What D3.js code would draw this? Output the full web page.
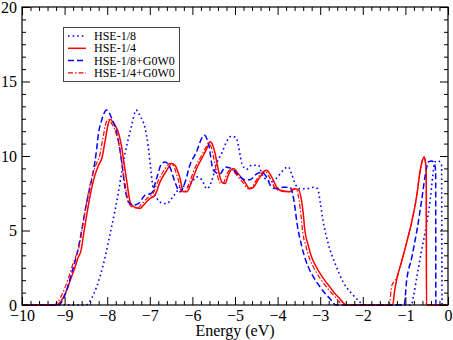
<!DOCTYPE html>
<html>
<head>
<meta charset="utf-8">
<script src="https://cdn.jsdelivr.net/npm/d3@7"></script>
<style>
  body { margin: 0; background: #fff; }
  svg { display: block; }
  svg text { font-family: "Liberation Serif", "Times New Roman", serif; }
</style>
</head>
<body>
<svg></svg>
<script>
// DOS curves, [energy (eV), DOS]
let hse8 = [[-10,0],[-8.5,0],[-8.42,0.2],[-8.33,0.65],[-8.25,1.2],[-8.17,1.9],[-8.05,3.2],[-7.93,4.8],[-7.82,6.3],[-7.74,7.5],[-7.66,8.9],[-7.58,10.2],[-7.5,11.2],[-7.43,12.0],[-7.32,13.08],[-7.23,12.7],[-7.11,11.85],[-7.04,10.7],[-6.98,9.16],[-6.92,7.8],[-6.84,7.2],[-6.72,6.85],[-6.6,6.8],[-6.49,7.14],[-6.37,7.6],[-6.25,8.0],[-6.13,7.9],[-6.0,8.3],[-5.9,8.6],[-5.78,8.4],[-5.66,7.8],[-5.55,8.3],[-5.43,9.5],[-5.31,10.2],[-5.2,10.95],[-5.08,11.33],[-4.98,11.24],[-4.92,10.7],[-4.88,10.05],[-4.84,9.5],[-4.73,9.1],[-4.61,9.38],[-4.45,9.38],[-4.37,8.8],[-4.26,8.4],[-4.14,8.26],[-4.03,8.5],[-3.94,8.8],[-3.83,9.16],[-3.75,9.27],[-3.67,8.8],[-3.59,8.15],[-3.47,7.8],[-3.32,7.8],[-3.16,7.9],[-3.06,7.8],[-3.0,6.9],[-2.93,5.6],[-2.81,4.1],[-2.65,2.78],[-2.46,1.54],[-2.26,0.76],[-2.07,0.2],[-2.0,0],[-0.86,0],[-0.81,0.6],[-0.73,1.9],[-0.62,3.67],[-0.5,5.46],[-0.42,7.0],[-0.36,8.6],[-0.31,9.6],[-0.23,9.67],[-0.15,9.38],[-0.14,0],[0,0]];

let hse4 = [[-10,0],[-9.2,0],[-9.1,0.2],[-8.95,1.0],[-8.85,1.8],[-8.76,2.5],[-8.68,3.2],[-8.62,3.6],[-8.54,5.0],[-8.46,6.4],[-8.39,7.5],[-8.29,8.7],[-8.2,9.4],[-8.12,9.9],[-8.05,11.0],[-7.98,12.1],[-7.93,12.47],[-7.85,12.2],[-7.74,11.6],[-7.66,10.6],[-7.62,9.8],[-7.54,8.3],[-7.46,6.9],[-7.38,6.6],[-7.23,6.47],[-7.15,6.7],[-7.0,7.14],[-6.88,7.37],[-6.76,8.26],[-6.6,9.05],[-6.49,9.5],[-6.41,9.38],[-6.29,8.5],[-6.21,7.6],[-6.13,7.6],[-6.02,8.26],[-5.9,9.16],[-5.74,10.05],[-5.63,10.7],[-5.59,10.95],[-5.52,10.7],[-5.47,10.2],[-5.39,9.05],[-5.31,8.26],[-5.23,8.15],[-5.16,8.7],[-5.04,9.16],[-4.92,8.8],[-4.77,8.26],[-4.65,7.8],[-4.57,7.9],[-4.41,8.6],[-4.26,9.05],[-4.14,8.6],[-4.02,7.9],[-3.94,7.7],[-3.71,7.6],[-3.59,7.8],[-3.5,7.7],[-3.45,7.2],[-3.4,6.2],[-3.36,5.0],[-3.28,4.0],[-3.2,3.2],[-3.1,2.6],[-3.0,2.1],[-2.88,1.6],[-2.77,1.2],[-2.65,0.75],[-2.54,0.42],[-2.45,0.12],[-2.38,0],[-1.3,0],[-1.25,1.0],[-1.2,1.77],[-1.09,2.9],[-0.97,4.2],[-0.85,5.6],[-0.73,7.4],[-0.66,8.9],[-0.59,9.8],[-0.56,9.94],[-0.53,9.6],[-0.51,9.0],[-0.505,0],[0,0]];

let hse8gw = [[-10,0],[-9.15,0],[-9.05,0.3],[-8.95,1.0],[-8.85,2.0],[-8.75,3.0],[-8.68,3.8],[-8.6,5.0],[-8.5,6.6],[-8.42,7.7],[-8.33,8.9],[-8.25,10.4],[-8.21,11.4],[-8.13,12.4],[-8.01,13.08],[-7.89,12.5],[-7.78,11.6],[-7.66,9.6],[-7.58,7.8],[-7.5,6.9],[-7.39,6.7],[-7.27,6.8],[-7.11,7.37],[-6.96,7.5],[-6.84,8.5],[-6.72,9.5],[-6.64,9.6],[-6.53,9.27],[-6.41,8.26],[-6.29,7.6],[-6.17,8.26],[-6.06,9.38],[-5.9,10.3],[-5.78,11.2],[-5.72,11.4],[-5.62,10.8],[-5.51,9.05],[-5.35,8.8],[-5.23,9.27],[-5.08,9.16],[-4.88,8.6],[-4.77,8.4],[-4.65,8.4],[-4.49,8.8],[-4.37,8.9],[-4.26,8.6],[-4.14,7.9],[-4.02,7.8],[-3.87,7.9],[-3.71,7.9],[-3.65,7.5],[-3.6,6.7],[-3.55,5.6],[-3.43,3.9],[-3.34,3.0],[-3.24,2.3],[-3.12,1.7],[-3.0,1.2],[-2.88,0.75],[-2.77,0.42],[-2.68,0.1],[-2.63,0],[-1.03,0],[-0.97,1.65],[-0.85,3.2],[-0.73,5.0],[-0.62,7.0],[-0.54,8.6],[-0.46,9.6],[-0.38,9.67],[-0.31,9.38],[-0.29,9.0],[-0.285,0],[0,0]];

let hse4gw = [[-10,0],[-9.25,0],[-9.15,0.25],[-9.0,1.1],[-8.9,1.9],[-8.81,2.7],[-8.72,3.4],[-8.66,3.9],[-8.58,5.2],[-8.5,6.6],[-8.43,7.7],[-8.34,8.8],[-8.25,9.5],[-8.17,10.1],[-8.1,11.2],[-8.03,12.2],[-7.97,12.45],[-7.9,12.2],[-7.79,11.5],[-7.7,10.4],[-7.66,9.6],[-7.58,8.1],[-7.5,6.9],[-7.42,6.6],[-7.28,6.5],[-7.2,6.75],[-7.05,7.2],[-6.93,7.45],[-6.81,8.3],[-6.65,9.1],[-6.53,9.5],[-6.45,9.35],[-6.33,8.4],[-6.25,7.6],[-6.17,7.65],[-6.06,8.3],[-5.94,9.2],[-5.79,10.0],[-5.68,10.6],[-5.63,10.85],[-5.56,10.6],[-5.51,10.0],[-5.43,8.9],[-5.35,8.2],[-5.27,8.2],[-5.2,8.75],[-5.08,9.1],[-4.96,8.7],[-4.81,8.2],[-4.69,7.8],[-4.61,7.9],[-4.45,8.6],[-4.3,9.0],[-4.18,8.5],[-4.06,7.85],[-3.98,7.7],[-3.75,7.6],[-3.63,7.8],[-3.55,7.7],[-3.5,7.1],[-3.45,6.0],[-3.41,4.9],[-3.33,3.9],[-3.25,3.1],[-3.15,2.5],[-3.05,2.0],[-2.93,1.5],[-2.82,1.1],[-2.7,0.7],[-2.6,0.38],[-2.52,0.1],[-2.46,0],[-1.38,0],[-1.32,1.3],[-1.24,1.65],[-1.2,1.85],[-1.09,2.9],[-0.97,4.2],[-0.85,5.6],[-0.73,7.4],[-0.66,8.9],[-0.59,9.8],[-0.56,9.94],[-0.53,9.6],[-0.51,9.0],[-0.505,0],[0,0]];

let seriesNames = ["HSE-1/8", "HSE-1/4", "HSE-1/8+G0W0", "HSE-1/4+G0W0"];
let xTicks = [-10, -9, -8, -7, -6, -5, -4, -3, -2, -1, 0];
let yTicks = [0, 5, 10, 15, 20];

let width = 453;
let height = 340;
let padLeft = 22, padRight = 448, padTop = 7, padBottom = 305;

let svg = d3.select("svg")
            .attr("width", width)
            .attr("height", height);

let xScale = d3.scaleLinear().domain([-10, 0]).range([padLeft, padRight]);
let yScale = d3.scaleLinear().domain([0, 20]).range([padBottom, padTop]);

// minor ticks: 4 between x majors, 5 between y majors
let xMinor = d3.range(-10, 0.001, 0.2).filter(v => Math.abs(v - Math.round(v)) > 1e-6);
let yMinor = d3.range(0, 20.001, 5 / 6).filter(v => Math.abs(v / 5 - Math.round(v / 5)) > 1e-6);

let styles = [
  { color: "#0000ff", width: 1.6, dash: "1.6,3" },
  { color: "#ff0000", width: 1.5, dash: null },
  { color: "#0000ff", width: 1.5, dash: "6,3" },
  { color: "#ff0000", width: 1.2, dash: "5,2,1.5,2" }
];
let allSeries = [hse8, hse4, hse8gw, hse4gw];

let line = d3.line()
             .x(d => xScale(d[0]))
             .y(d => yScale(d[1]))
             .curve(d3.curveMonotoneX);

allSeries.forEach((s, i) => {
  svg.append("path")
     .datum(s)
     .attr("d", line)
     .attr("fill", "none")
     .attr("stroke", styles[i].color)
     .attr("stroke-width", styles[i].width)
     .attr("stroke-dasharray", styles[i].dash);
});

// axes (ticks point inward on all four sides)
let drawAxis = (axisFn, scale, vals, size, labels, transform) => {
  let ax = axisFn(scale)
             .tickValues(vals)
             .tickSizeInner(size)
             .tickSizeOuter(0)
             .tickPadding(5);
  if (!labels) ax.tickFormat("");
  let g = svg.append("g")
             .attr("transform", transform)
             .call(ax);
  g.select(".domain").remove();
  g.selectAll("text")
   .style("font-family", "'Liberation Serif', 'Times New Roman', serif")
   .style("font-size", "16px")
   .attr("fill", "#000");
  return g;
};

drawAxis(d3.axisBottom, xScale, xTicks, -8, true, `translate(0,${padBottom})`);
drawAxis(d3.axisBottom, xScale, xMinor, -4, false, `translate(0,${padBottom})`);
drawAxis(d3.axisTop, xScale, xTicks, -8, false, `translate(0,${padTop})`);
drawAxis(d3.axisTop, xScale, xMinor, -4, false, `translate(0,${padTop})`);
drawAxis(d3.axisLeft, yScale, yTicks, -8, true, `translate(${padLeft},0)`);
drawAxis(d3.axisLeft, yScale, yMinor, -4, false, `translate(${padLeft},0)`);
drawAxis(d3.axisRight, yScale, yTicks, -8, false, `translate(${padRight},0)`);
drawAxis(d3.axisRight, yScale, yMinor, -4, false, `translate(${padRight},0)`);

svg.append("rect")
   .attr("x", padLeft)
   .attr("y", padTop)
   .attr("width", padRight - padLeft)
   .attr("height", padBottom - padTop)
   .attr("fill", "none")
   .attr("stroke", "#000")
   .attr("stroke-width", 1.2);

svg.append("text")
   .attr("x", (padLeft + padRight) / 2)
   .attr("y", 336)
   .attr("text-anchor", "middle")
   .style("font-size", "16px")
   .text("Energy (eV)");

// legend
let legend = svg.append("g");
legend.append("rect")
      .attr("x", 63.5)
      .attr("y", 27.5)
      .attr("width", 116)
      .attr("height", 54)
      .attr("fill", "#fff")
      .attr("stroke", "#444")
      .attr("stroke-width", 1);

seriesNames.forEach((name, i) => {
  let yy = 36 + i * 12.3;
  legend.append("line")
        .attr("x1", 68)
        .attr("x2", 86)
        .attr("y1", yy)
        .attr("y2", yy)
        .attr("stroke", styles[i].color)
        .attr("stroke-width", styles[i].width)
        .attr("stroke-dasharray", styles[i].dash);
  legend.append("text")
        .attr("x", 94)
        .attr("y", yy + 4)
        .style("font-size", "12px")
        .text(name);
});
</script>
</body>
</html>
